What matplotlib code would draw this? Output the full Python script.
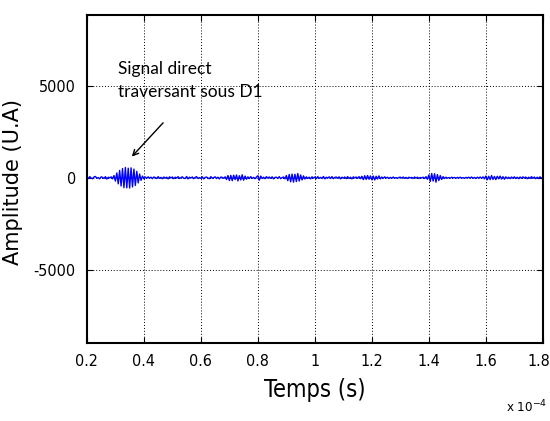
import numpy as np
import matplotlib
matplotlib.use("Agg")
import matplotlib.pyplot as plt
from matplotlib import font_manager, transforms

# time axis (x 1e-4 s), sampled every 0.005
t_start, t_step = 0.2, 0.005

# amplitude (U.A)
amplitude = [
    30, -40, 60, -20, -50, 40, 70, -30, 10, -60, 50, 20, -40, 60, -70, 30, -10, 50, -60, 120,
    -180, 260, -330, 400, -450, 500, -540, 560, -550, 520, -560, 540, -500, 470, -420, 350, -280, 200, -140, 90,
    -60, 40, -30, 50, -20, 30, -50, 40, 10, -40, 60, -30, 20, -50, 40, -20, 30, -60, 50, -10,
    40, -50, 30, -20, 60, -40, 10, 50, -30, -40, 70, -60, 30, -10, 40, -50, 20, 60, -40, 10,
    -30, 50, -60, 20, 40, -20, -50, 60, -30, 10, 50, -40, 30, -60, 40, 20, -30, 50, -90, 120,
    -150, 130, -160, 140, -100, 150, -170, 110, -120, 160, -130, 90, -80, 50, -40, 60, -30, 20, -50, 40,
    110, -130, 90, -40, 30, -50, 60, -20, 40, -30, 50, -60, 20, 30, -40, 60, -50, 10, 40, -60,
    120, -160, 180, -220, 200, -240, 190, -210, 230, -180, 150, -120, 100, -70, 50, -40, 30, -60, 50, -20,
    40, -50, 60, -30, 20, -40, 70, -60, 30, -20, 50, -40, 60, -50, 20, 40, -30, 50, -60, 30,
    -20, 40, -50, 60, -40, 30, -60, 50, -10, 40, -30, 60, -50, 80, -100, 110, -90, 120, -80, 100,
    -110, 90, -120, 80, -70, 100, -60, 40, -30, 50, -20, 30, -40, 20, -30, 40, -20, 10, -30, 20,
    30, -20, 40, -30, 20, -40, 30, -10, 20, -30, 40, -20, 30, -40, 20, -10, 30, -40, 60, -80,
    150, -200, 230, -180, 220, -240, 170, -150, 120, -90, 60, -40, 30, -20, 10, -20, 30, -10, 20, -30,
    20, -10, 30, -20, 10, -30, 20, -10, 30, -20, 40, -30, 20, -40, 30, -20, 40, -30, 50, -60,
    90, -110, 80, -100, 120, -90, 70, -100, 80, -60, 90, -70, 60, -80, 50, -40, 30, -50, 40, -30,
    50, -40, 30, -50, 40, -30, 50, -20, 40, -50, 30, -40, 60, -30, 40, -50, 30, -40, 50, -20,
    10,
]
temps = t_start + t_step * np.arange(len(amplitude))

x_ticks = [0.2, 0.4, 0.6, 0.8, 1.0, 1.2, 1.4, 1.6, 1.8]
x_labels = ["0.2", "0.4", "0.6", "0.8", "1", "1.2", "1.4", "1.6", "1.8"]
y_ticks = [-5000, 0, 5000]
y_labels = ["-5000", "0", "5000"]

# narrow face for the MATLAB-like labels
narrow = font_manager.FontProperties(family="DejaVu Sans", stretch="condensed", size=11.5)
narrow_big = font_manager.FontProperties(family="DejaVu Sans", stretch="condensed", size=17)
narrow_small = font_manager.FontProperties(family="DejaVu Sans", stretch="condensed", size=9.5)

fig = plt.figure(figsize=(5.5, 4.21), dpi=100)
ax = fig.add_axes([0.158, 0.185, 0.829, 0.779])

ax.plot(temps, amplitude, color="#0000ff", lw=1.0)

ax.set_xlim(0.2, 1.8)
ax.set_ylim(-9000, 8850)
ax.set_xticks(x_ticks)
ax.set_xticklabels(x_labels, fontproperties=narrow)
ax.set_yticks(y_ticks)
ax.set_yticklabels(y_labels, fontproperties=narrow)
ax.tick_params(direction="in", top=True, right=True, length=4, pad=8)

# nudge the last x label so it stays inside the canvas
last = ax.get_xticklabels()[-1]
last.set_transform(last.get_transform() + transforms.ScaledTranslation(-4 / 100, 0, fig.dpi_scale_trans))

ax.grid(True, color="black", linestyle=(0, (1, 2)), lw=0.7)
for s in ax.spines.values():
    s.set_linewidth(1.5)

ax.set_xlabel("Temps (s)", fontproperties=narrow_big, labelpad=6)
ax.set_ylabel("Amplitude (U.A)", family="DejaVu Sans", fontsize=15)
ax.yaxis.set_label_coords(-0.14, 0.49)

fig.text(0.92, 0.02, r"x 10$^{-4}$", fontproperties=narrow_small)

ax.text(0.309, 5300, "Signal direct\ntraversant sous D1", family="Lato",
        fontsize=12.5, va="center", linespacing=1.5)
ax.annotate("", xy=(0.351, 1040), xytext=(0.474, 3100),
            arrowprops=dict(arrowstyle="->", color="black", lw=1))

fig.savefig("out.png", dpi=100)
